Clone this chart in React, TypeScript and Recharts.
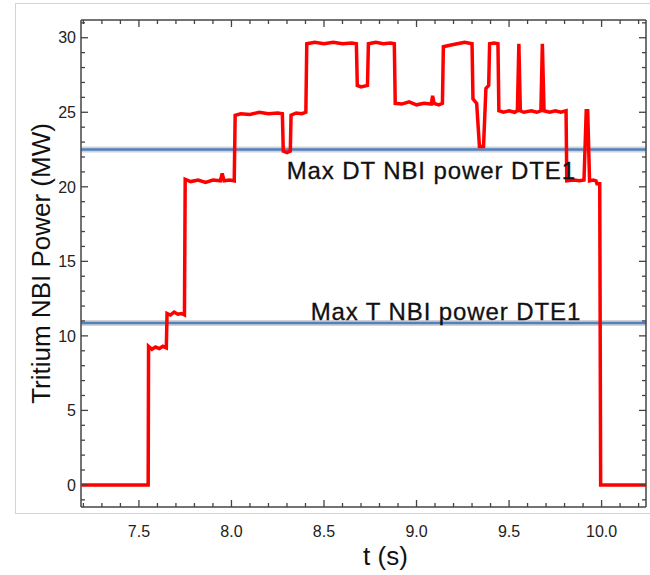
import React from 'react';
import { LineChart, Line, XAxis, YAxis, ReferenceLine } from 'recharts';

// time (s) and tritium NBI power (MW)
const times = [
  7.19, 7.55, 7.552, 7.57, 7.59, 7.61, 7.63, 7.648,
  7.652, 7.67, 7.69, 7.71, 7.73, 7.746,
  7.75, 7.78, 7.82, 7.86, 7.9, 7.94, 7.95, 7.96, 7.99, 8.015,
  8.02, 8.05, 8.1, 8.15, 8.2, 8.25, 8.275,
  8.28, 8.3, 8.318,
  8.322, 8.35, 8.38, 8.402,
  8.407, 8.45, 8.5, 8.55, 8.6, 8.65, 8.675,
  8.68, 8.7, 8.735,
  8.74, 8.78, 8.82, 8.86, 8.88,
  8.885, 8.92, 8.96, 9.0, 9.04, 9.08, 9.087, 9.095, 9.12, 9.14,
  9.145, 9.18, 9.22, 9.26, 9.3,
  9.305, 9.325, 9.34, 9.362, 9.375, 9.39,
  9.395, 9.42, 9.44,
  9.445, 9.47, 9.5, 9.53, 9.545, 9.553, 9.561,
  9.58, 9.62, 9.65, 9.672, 9.68, 9.689,
  9.72, 9.75, 9.78, 9.808,
  9.812, 9.85, 9.88, 9.905, 9.917, 9.925, 9.935, 9.955, 9.97, 9.975, 9.99,
  9.995, 10.24,
];
const power = [
  0, 0, 9.3, 9.1, 9.25, 9.15, 9.3, 9.2,
  11.5, 11.4, 11.6, 11.45, 11.5, 11.4,
  20.5, 20.35, 20.45, 20.3, 20.45, 20.4, 20.9, 20.4, 20.45, 20.4,
  24.8, 24.9, 24.85, 25.0, 24.9, 24.95, 24.9,
  22.4, 22.3, 22.4,
  24.8, 24.95, 24.9, 25.0,
  29.6, 29.7, 29.6, 29.7, 29.6, 29.65, 29.6,
  26.8, 26.7, 26.8,
  29.6, 29.7, 29.6, 29.65, 29.6,
  25.6, 25.55, 25.7, 25.5, 25.6, 25.55, 26.1, 25.6, 25.5, 25.6,
  29.4, 29.5, 29.6, 29.7, 29.6,
  25.9, 25.6, 22.7, 22.7, 26.6, 26.8,
  29.6, 29.65, 29.6,
  25.1, 25.0, 25.1, 25.0, 25.1, 29.6, 25.1,
  25.0, 25.1, 25.0, 25.1, 29.6, 25.1,
  25.0, 25.1, 25.0, 25.1,
  20.4, 20.45, 20.4, 20.45, 25.1, 25.1, 20.4, 20.45, 20.4, 20.2, 20.2,
  0, 0,
];

const xTicks = [
  7.2, 7.3, 7.4, 7.5, 7.6, 7.7, 7.8, 7.9, 8.0, 8.1, 8.2, 8.3, 8.4, 8.5, 8.6,
  8.7, 8.8, 8.9, 9.0, 9.1, 9.2, 9.3, 9.4, 9.5, 9.6, 9.7, 9.8, 9.9, 10.0,
  10.1, 10.2,
];
const yTicks = [
  -1, 0, 1, 2, 3, 4, 5, 6, 7, 8, 9, 10, 11, 12, 13, 14, 15, 16, 17, 18, 19,
  20, 21, 22, 23, 24, 25, 26, 27, 28, 29, 30, 31,
];

const maxDT = 22.5;
const maxT = 10.87;

const data = times.map((t, i) => ({ t, p: power[i] }));

const FONT = '"Liberation Sans", Arial, Helvetica, sans-serif';
const AXIS = '#444';

const W = 650;
const H = 575;
const M = { top: 19, right: 3, bottom: 67, left: 80 };
// plot box size (axes are 1px wide/high)
const PLOT_W = W - M.left - M.right - 2;
const PLOT_H = H - M.top - M.bottom - 2;

const isMajorX = (v: number) => Math.abs(v * 2 - Math.round(v * 2)) < 1e-6;
const isMajorY = (v: number) => v % 5 === 0;

// inward ticks on bottom and top edges, label below
const XTick = ({ x, y, payload }: any) => {
  const len = isMajorX(payload.value) ? 7 : 4;
  const top = y - PLOT_H;
  return (
    <g>
      <line x1={x} x2={x} y1={y} y2={y - len} stroke={AXIS} strokeWidth={1.3} />
      <line x1={x} x2={x} y1={top} y2={top + len} stroke={AXIS} strokeWidth={1.3} />
      {len === 7 && (
        <text x={x} y={y + 30} textAnchor="middle" fontSize={16} fill="#222" fontFamily={FONT}>
          {payload.value.toFixed(1)}
        </text>
      )}
    </g>
  );
};

// inward ticks on left and right edges, label left
const YTick = ({ x, y, payload }: any) => {
  const len = isMajorY(payload.value) ? 7 : 4;
  const right = x + PLOT_W;
  return (
    <g>
      <line x1={x} x2={x + len} y1={y} y2={y} stroke={AXIS} strokeWidth={1.3} />
      <line x1={right} x2={right - len} y1={y} y2={y} stroke={AXIS} strokeWidth={1.3} />
      {len === 7 && (
        <text x={x - 5} y={y} dy="0.36em" textAnchor="end" fontSize={16} fill="#222" fontFamily={FONT}>
          {payload.value}
        </text>
      )}
    </g>
  );
};

const labelText = (text: string, dx: number, dy: number) => (props: any) => {
  const vb = props.viewBox;
  return (
    <text
      x={vb.x + dx}
      y={vb.y + dy}
      fontSize={24}
      letterSpacing={0.9}
      fill="#111"
      stroke="#111"
      strokeWidth={0.3}
      fontFamily={FONT}
    >
      {text}
    </text>
  );
};

export default function App() {
  return (
    <div style={{ position: 'absolute', left: 0, top: 0, width: W, height: H, background: '#fff' }}>
      <div
        style={{
          position: 'absolute',
          left: 15,
          top: 3,
          width: 650,
          height: 509,
          border: '1px solid #d4d4d4',
        }}
      />
      <div style={{ position: 'absolute', left: 0, top: 0 }}>
        <LineChart width={W} height={H} data={data} margin={M}>
          <XAxis
            dataKey="t"
            type="number"
            domain={[7.187, 10.24]}
            allowDataOverflow
            ticks={xTicks}
            interval={0}
            height={1}
            tickSize={0}
            tickMargin={0}
            tick={<XTick />}
            axisLine={{ stroke: AXIS, strokeWidth: 1.5 }}
            label={(props: any) => {
              const vb = props.viewBox;
              return (
                <text x={vb.x + vb.width / 2 + 22} y={vb.y + 58} textAnchor="middle" fontSize={26} fill="#111" fontFamily={FONT}>
                  t (s)
                </text>
              );
            }}
          />
          <XAxis
            xAxisId="top"
            dataKey="t"
            orientation="top"
            type="number"
            domain={[7.187, 10.24]}
            allowDataOverflow
            height={1}
            tick={false}
            tickLine={false}
            axisLine={{ stroke: AXIS, strokeWidth: 1.5 }}
          />
          <YAxis
            type="number"
            domain={[-1.48, 31.19]}
            allowDataOverflow
            ticks={yTicks}
            interval={0}
            width={1}
            tickSize={0}
            tickMargin={0}
            tick={<YTick />}
            axisLine={{ stroke: AXIS, strokeWidth: 1.5 }}
            label={(props: any) => {
              const vb = props.viewBox;
              const cx = vb.x + vb.width - 31;
              const cy = vb.y + vb.height / 2;
              return (
                <text
                  x={cx}
                  y={cy}
                  transform={`rotate(-90, ${cx}, ${cy})`}
                  textAnchor="middle"
                  fontSize={26}
                  fill="#111"
                  fontFamily={FONT}
                >
                  Tritium NBI Power (MW)
                </text>
              );
            }}
          />
          <YAxis
            yAxisId="right"
            orientation="right"
            type="number"
            domain={[-1.48, 31.19]}
            allowDataOverflow
            width={1}
            tick={false}
            tickLine={false}
            axisLine={{ stroke: AXIS, strokeWidth: 1.5 }}
          />
          <ReferenceLine y={maxDT} stroke="#d2d2d2" strokeWidth={6} />
          <ReferenceLine y={maxDT} stroke="#5080bf" strokeWidth={2.5} />
          <ReferenceLine y={maxT} stroke="#d2d2d2" strokeWidth={6} />
          <ReferenceLine y={maxT} stroke="#5080bf" strokeWidth={2.5} />
          <Line
            type="linear"
            dataKey="p"
            stroke="#ff0000"
            strokeWidth={3.5}
            dot={false}
            activeDot={false}
            isAnimationActive={false}
          />
          <ReferenceLine y={maxDT} stroke="none" label={labelText('Max DT NBI power DTE1', 205.7, 29.7)} />
          <ReferenceLine y={maxT} stroke="none" label={labelText('Max T NBI power DTE1', 229.7, -3.4)} />
        </LineChart>
      </div>
    </div>
  );
}
